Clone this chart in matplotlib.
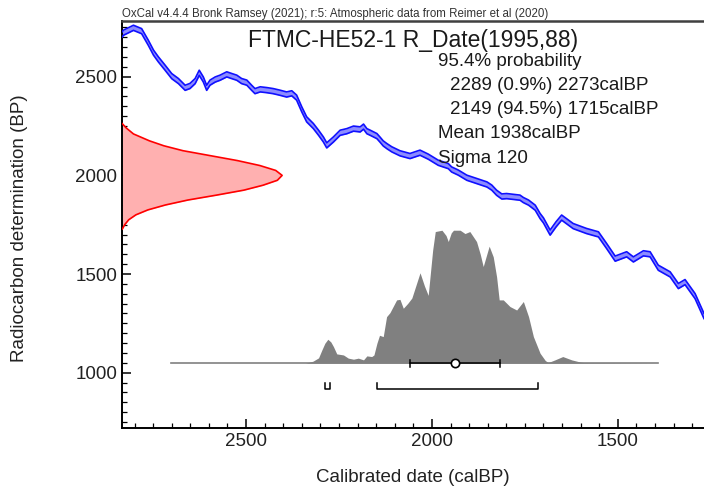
import matplotlib
matplotlib.use('Agg')
import matplotlib.pyplot as plt
from matplotlib.ticker import MultipleLocator

plt.rcParams['font.family'] = ['Liberation Sans', 'DejaVu Sans']

# ---------------- data ----------------
sample_name = "FTMC-HE52-1"
r_date_mean = 1995
r_date_err = 88
header = "OxCal v4.4.4 Bronk Ramsey (2021); r:5: Atmospheric data from Reimer et al (2020)"
prob_level = "95.4%"
ranges_from = [2289, 2149]
ranges_pct = [0.9, 94.5]
ranges_to = [2273, 1715]
mean_cal = 1938
sigma_cal = 120

# calibration curve (IntCal20)
curve_cal = [2833, 2830, 2803, 2781, 2763, 2749, 2736, 2718, 2700, 2682, 2664, 2651,
             2637, 2626, 2615, 2606, 2597, 2583, 2570, 2552, 2538, 2525, 2512, 2498,
             2485, 2476, 2462, 2444, 2427, 2409, 2391, 2377, 2364, 2350, 2337, 2319,
             2305, 2292, 2283, 2265, 2247, 2229, 2211, 2193, 2184, 2175, 2166, 2148,
             2140, 2131, 2121, 2108, 2086, 2059, 2032, 2010, 1983, 1956, 1947, 1929,
             1906, 1879, 1852, 1839, 1826, 1812, 1799, 1763, 1754, 1740, 1722, 1709,
             1700, 1682, 1666, 1651, 1620, 1584, 1552, 1530, 1507, 1476, 1458, 1431,
             1413, 1391, 1359, 1337, 1319, 1292, 1268]
curve_bp = [2715, 2723, 2748, 2731, 2672, 2622, 2588, 2546, 2503, 2478, 2444, 2453,
            2478, 2520, 2486, 2444, 2470, 2486, 2495, 2512, 2503, 2495, 2478, 2470,
            2444, 2427, 2436, 2432, 2427, 2419, 2410, 2416, 2394, 2334, 2284, 2250,
            2216, 2182, 2152, 2182, 2216, 2224, 2237, 2233, 2247, 2224, 2216, 2199,
            2182, 2162, 2148, 2132, 2112, 2098, 2115, 2095, 2064, 2047, 2030, 2014,
            1988, 1971, 1954, 1938, 1912, 1893, 1895, 1887, 1875, 1862, 1836, 1794,
            1772, 1710, 1752, 1786, 1743, 1718, 1701, 1642, 1578, 1600, 1574, 1605,
            1600, 1532, 1498, 1439, 1459, 1388, 1287]
curve_err = 13

# measured radiocarbon date distribution (relative height)
red_bp = [2262, 2240, 2210, 2175, 2150, 2125, 2100, 2075, 2050, 2025, 2000, 1975,
          1950, 1925, 1900, 1875, 1850, 1825, 1800, 1775, 1750, 1728]
red_h = [0.0, 0.025, 0.07, 0.17, 0.26, 0.38, 0.55, 0.72, 0.86, 0.96, 1.0, 0.97,
         0.88, 0.76, 0.59, 0.41, 0.27, 0.16, 0.085, 0.04, 0.015, 0.0]

# calibrated probability distribution (relative height)
post_cal = [2702, 2340, 2320, 2305, 2296, 2288, 2280, 2272, 2265, 2256, 2238, 2225,
            2211, 2198, 2184, 2175, 2162, 2156, 2148, 2141, 2131, 2122, 2113, 2095,
            2086, 2077, 2065, 2054, 2032, 2020, 2010, 1998, 1991, 1973, 1962, 1956,
            1948, 1942, 1924, 1911, 1898, 1880, 1870, 1862, 1846, 1835, 1826, 1819,
            1808, 1790, 1772, 1754, 1740, 1727, 1709, 1695, 1687, 1669, 1648, 1624,
            1600, 1593, 1391]
post_h = [0.0, 0.0, 0.015, 0.04, 0.10, 0.15, 0.18, 0.16, 0.125, 0.07, 0.062, 0.038,
          0.03, 0.038, 0.025, 0.055, 0.05, 0.062, 0.15, 0.21, 0.20, 0.35, 0.38, 0.476,
          0.48, 0.413, 0.45, 0.49, 0.68, 0.58, 0.51, 0.85, 0.99, 1.0, 0.96, 0.915,
          0.98, 1.0, 1.0, 0.975, 0.99, 0.915, 0.82, 0.727, 0.88, 0.80, 0.65, 0.476,
          0.476, 0.426, 0.40, 0.464, 0.35, 0.20, 0.075, 0.02, 0.005, 0.025, 0.05, 0.025,
          0.008, 0.005, 0.0]

x_ticks = [2500, 2000, 1500]
y_ticks = [1000, 1500, 2000, 2500]
x_label = "Calibrated date (calBP)"
y_label = "Radiocarbon determination (BP)"

# ---------------- layout ----------------
W, H = 704, 493
XLIM = (2833, 1268)
YLIM = (718, 2784)
RED_SCALE = 430      # cal years for full height of red distribution
POST_BASE = 1048     # BP baseline of calibrated distribution
POST_SCALE = 674     # BP units for full height
BR_Y = 916
BR_TOP = 946
EB_TICK = 17

fig = plt.figure(figsize=(W / 100, H / 100), dpi=100)
ax = fig.add_axes([122.3 / W, 1 - 428.3 / H, 1 - 122.3 / W, (428.3 - 20.7) / H])
ax.set_xlim(*XLIM)
ax.set_ylim(*YLIM)

# calibration curve band
lo = [b - curve_err for b in curve_bp]
hi = [b + curve_err for b in curve_bp]
ax.fill_between(curve_cal, lo, hi, color='#8c8cff', lw=0, zorder=2)
ax.plot(curve_cal, lo, color='#1010ff', lw=1.2, zorder=3)
ax.plot(curve_cal, hi, color='#1010ff', lw=1.2, zorder=3)

# radiocarbon date distribution (red)
x0 = XLIM[0]
red_x = [x0 - h * RED_SCALE for h in red_h]
ax.fill_betweenx(red_bp, x0, red_x, color='#ffb0b0', lw=0, zorder=2)
ax.plot(red_x, red_bp, color='#ff0000', lw=1.2, zorder=3)

# calibrated distribution (grey)
post_y = [POST_BASE + h * POST_SCALE for h in post_h]
ax.fill_between(post_cal, POST_BASE, post_y, color='#808080', lw=0, zorder=2)
ax.plot([post_cal[0], post_cal[-1]], [POST_BASE, POST_BASE], color='#808080', lw=1.2, zorder=2)

# mean +- sigma bar
a, b = mean_cal + sigma_cal, mean_cal - sigma_cal
ax.plot([a, b], [POST_BASE, POST_BASE], color='black', lw=1.1, zorder=4)
for e in (a, b):
    ax.plot([e, e], [POST_BASE - EB_TICK, POST_BASE + EB_TICK], color='black', lw=1.1, zorder=4)
ax.plot([mean_cal], [POST_BASE], 'o', ms=6, mfc='white', mec='black', mew=1.2, zorder=5)

# range brackets
for f, t in zip(ranges_from, ranges_to):
    ax.plot([f, f, t, t], [BR_TOP, BR_Y, BR_Y, BR_TOP], color='black', lw=1.1, zorder=4)

# axes styling
ax.spines['right'].set_visible(False)
ax.spines['top'].set_color('#404040')
ax.spines['top'].set_linewidth(1.8)
for s in ('left', 'bottom'):
    ax.spines[s].set_linewidth(1.4)
    ax.spines[s].set_color('black')
ax.set_xticks(x_ticks)
ax.set_yticks(y_ticks)
ax.xaxis.set_minor_locator(MultipleLocator(50))
ax.yaxis.set_minor_locator(MultipleLocator(50))
ax.tick_params(which='major', direction='in', length=6.5, width=1.1, labelsize=13.5,
               labelcolor='#222222', pad=3.5, top=False, right=False)
ax.tick_params(which='minor', direction='in', length=3.5, width=0.9, top=False, right=False)

# texts
txt_kw = dict(color='#1a1a1a', va='center', ha='left')
fig.text(122 / W, 1 - 14 / H, header, fontsize=8.3, color='#333333', va='center', ha='left')
fig.text(248 / W, 1 - 40 / H, f"{sample_name} R_Date({r_date_mean},{r_date_err})",
         fontsize=16.5, **txt_kw)
lines = [(438, 62, f"{prob_level} probability")]
ys = [86, 109]
for yy, f, p, t in zip(ys, ranges_from, ranges_pct, ranges_to):
    lines.append((450, yy, f"{f} ({p}%) {t}calBP"))
lines.append((438, 134, f"Mean {mean_cal}calBP"))
lines.append((438, 159, f"Sigma {sigma_cal}"))
for xx, yy, s in lines:
    fig.text(xx / W, 1 - yy / H, s, fontsize=13.5, **txt_kw)

fig.text(413 / W, 1 - 478 / H, x_label, fontsize=13.5, color='#222222', ha='center', va='center')
fig.text(20 / W, 1 - 228 / H, y_label, fontsize=13.5, color='#222222', ha='center', va='center',
         rotation=90)

fig.savefig('out.png', dpi=100)
